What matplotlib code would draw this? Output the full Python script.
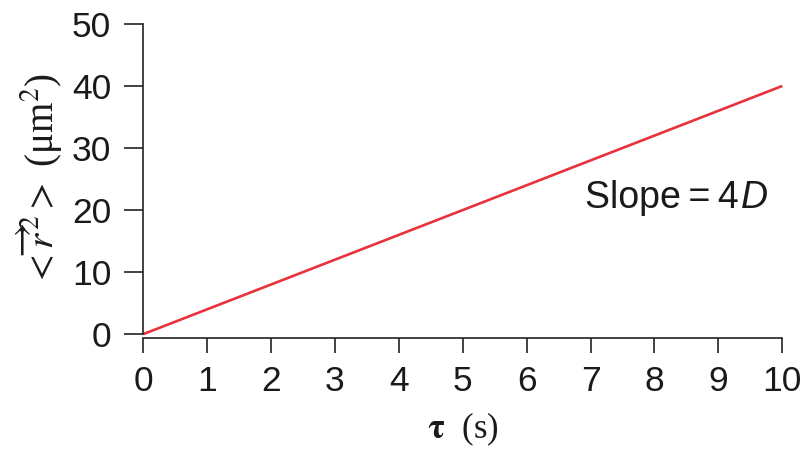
"""Mean squared displacement vs lag time for free diffusion."""
import matplotlib
matplotlib.use("Agg")
import matplotlib.pyplot as plt

# lag time (s) and MSD (um^2) at the two ends of the line
tau_s = [0, 10]
msd_um2 = [0, 40]
x_ticks = list(range(0, 11))
y_ticks = [0, 10, 20, 30, 40, 50]

plt.rcParams["font.family"] = ["Liberation Sans", "DejaVu Sans"]
plt.rcParams["mathtext.fontset"] = "stix"

fig = plt.figure(figsize=(8.04, 4.51), dpi=100)
ax = fig.add_axes([0.178, 0.259, 0.795, 0.688])

ax.plot(tau_s, msd_um2, color="#e8323c", lw=1.9, solid_capstyle="butt", clip_on=False)

ax.set_xlim(0, 10)
ax.set_ylim(0, 50)
ax.set_xticks(x_ticks)
ax.set_yticks(y_ticks)

for side in ("top", "right"):
    ax.spines[side].set_visible(False)
ax.spines["bottom"].set_position(("outward", 3))
for side in ("left", "bottom"):
    ax.spines[side].set_linewidth(1.2)
    ax.spines[side].set_color("#222222")

ax.tick_params(axis="both", direction="out", width=1.2, color="#222222",
               labelsize=25.5, labelcolor="#1a1a1a")
ax.tick_params(axis="y", length=14, pad=9)
ax.tick_params(axis="x", length=11, pad=8)

ax.set_xlabel(r"$\mathbf{\tau}$  (s)", family="Liberation Serif",
              fontsize=25, color="#1a1a1a", labelpad=9)
ax.set_ylabel(r"$<\overrightarrow{r}^{\,2}>$ (μm$^2$)", family="Liberation Serif",
              fontsize=28, color="#1a1a1a", labelpad=5)

# "Slope = 4" upright, then an italic D right after it
slope = ax.text(6.92, 22, "Slope\u2009=\u20094", fontsize=27, color="#1a1a1a",
                va="center", ha="left")
ax.annotate("D", xy=(1, 0.5), xycoords=slope, xytext=(1, 0), textcoords="offset points",
            fontsize=27, fontstyle="italic", color="#1a1a1a", va="center", ha="left")

fig.savefig("out.png", dpi=100)
